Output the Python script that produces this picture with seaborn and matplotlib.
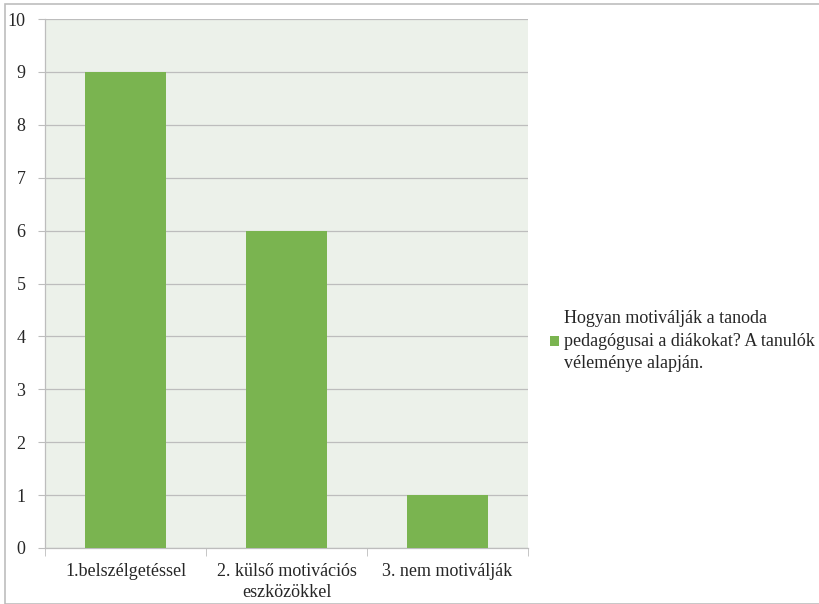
import matplotlib
matplotlib.use("Agg")
import matplotlib.pyplot as plt
import seaborn as sns
import pandas as pd
from matplotlib.patches import Rectangle, Patch
from matplotlib.font_manager import FontProperties

categories = ["1.belszélgetéssel", "2. külső motivációs\neszközökkel", "3. nem motiválják"]
values = [9, 6, 1]
series_name = "Hogyan motiválják a tanoda\npedagógusai a diákokat? A tanulók\nvéleménye alapján."
yticks = [0, 1, 2, 3, 4, 5, 6, 7, 8, 9, 10]

sns.set_style("white")
FAM = ["Liberation Serif", "DejaVu Serif"]
plt.rcParams["font.family"] = FAM

FS = 13
df = pd.DataFrame({"cat": categories, "val": values})

fig = plt.figure(figsize=(8.19, 6.04), dpi=100)
ax = fig.add_axes([45/819, 56/604, (528-45)/819, (548-19)/604])
ax.set_facecolor("#ECF1EA")

sns.barplot(data=df, x="cat", y="val", color="#7AB450", width=0.5,
            saturation=1, linewidth=0, edgecolor="none", ax=ax, zorder=3)

ax.set_ylim(0, 10)
ax.set_xlim(-0.5, 2.5)
ax.set_yticks(yticks)
ax.set_yticklabels([str(t) for t in yticks], fontsize=FS, family=FAM)
ax.yaxis.grid(True, color="#BDBDBD", linewidth=0.9, zorder=0)
ax.set_axisbelow(True)
ax.set_xlabel("")
ax.set_ylabel("")
ax.tick_params(axis="x", length=0, pad=11)
ax.tick_params(axis="y", left=True, length=5, color="#BDBDBD", pad=9)
ax.set_xticks([0, 1, 2])
ax.set_xticklabels(categories, fontsize=FS, family=FAM, linespacing=1.25)
ax.set_xticks([-0.5, 0.5, 1.5, 2.5], minor=True)
ax.tick_params(axis="x", which="minor", bottom=True, length=6, color="#BDBDBD")
for s in ["top", "right"]:
    ax.spines[s].set_visible(False)
for s in ["left", "bottom"]:
    ax.spines[s].set_color("#BDBDBD")
    ax.spines[s].set_linewidth(0.9)

handles = [Patch(facecolor="#7AB450", edgecolor="none")]
leg = fig.legend(handles, [series_name], loc="center left",
                 bbox_to_anchor=(550/819, 1 - 341/604), frameon=False,
                 prop=FontProperties(family=FAM, size=FS),
                 handlelength=0.5, handleheight=0.5,
                 handletextpad=0.3, borderaxespad=0, borderpad=0, labelspacing=0)
for t in leg.get_texts():
    t.set_linespacing(1.4)

fig.patches.append(Rectangle((5/819, 0.0), 1.2, 1 - 4/604, transform=fig.transFigure,
                             fill=False, edgecolor="#BDBDBD", linewidth=1.2))

fig.savefig("out.png", dpi=100)
